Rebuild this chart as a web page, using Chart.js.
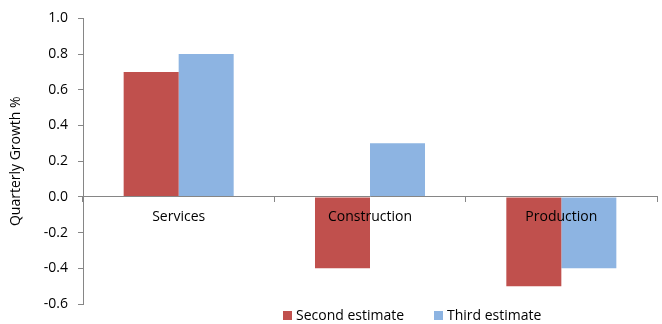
<!DOCTYPE html>
<html>
<head>
<meta charset="utf-8">
<script src="https://cdn.jsdelivr.net/npm/chart.js@4.4.0/dist/chart.umd.min.js"></script>
<style>
  html, body { margin: 0; padding: 0; background: #ffffff; }
  #wrap { width: 662px; height: 324px; position: relative; }
</style>
</head>
<body>
<div id="wrap"><canvas id="c" width="662" height="324"></canvas></div>
<script>
const categories = ['Services', 'Construction', 'Production'];
const secondEstimate = [0.7, -0.4, -0.5];
const thirdEstimate = [0.8, 0.3, -0.4];
const seriesNames = ['Second estimate', 'Third estimate'];
const yTicks = { min: -0.6, max: 1.0, step: 0.2 };
const axisTitle = 'Quarterly Growth %';

const FONT = "'Open Sans', 'Liberation Sans', sans-serif";
const AXIS = '#868686';

const legendPlugin = {
  id: 'manualLegend',
  afterDraw(chart) {
    const ctx = chart.ctx;
    ctx.save();
    ctx.font = '14px ' + FONT;
    ctx.textBaseline = 'middle';
    ctx.textAlign = 'left';
    const starts = [283, 434];
    chart.data.datasets.forEach((ds, i) => {
      const x = starts[i];
      ctx.fillStyle = ds.backgroundColor;
      ctx.fillRect(x, 311, 9, 9);
      ctx.fillStyle = '#000000';
      ctx.fillText(ds.label, x + 13, 316);
    });
    ctx.restore();
  }
};

new Chart(document.getElementById('c'), {
  type: 'bar',
  data: {
    labels: categories,
    datasets: [
      { label: seriesNames[0], data: secondEstimate, backgroundColor: '#C0504D', borderWidth: 0,
        categoryPercentage: 0.575, barPercentage: 1.0 },
      { label: seriesNames[1], data: thirdEstimate, backgroundColor: '#8DB4E2', borderWidth: 0,
        categoryPercentage: 0.575, barPercentage: 1.0 }
    ]
  },
  options: {
    responsive: false,
    animation: false,
    devicePixelRatio: 1,
    layout: { padding: { top: 16, right: 5, bottom: 20, left: 0 } },
    plugins: {
      legend: { display: false },
      tooltip: { enabled: false }
    },
    scales: {
      x: {
        position: { y: 0 },
        offset: true,
        grid: { drawOnChartArea: false, drawTicks: true, tickLength: 5, color: AXIS, offset: true, z: 1 },
        border: { display: true, color: AXIS, width: 1, z: 1 },
        ticks: { color: '#000000', font: { family: FONT, size: 14 }, padding: 7, maxRotation: 0, autoSkip: false, z: 2 }
      },
      y: {
        min: yTicks.min,
        max: yTicks.max,
        afterFit(scale) { scale.width = 83; },
        grid: { drawOnChartArea: false, drawTicks: true, tickLength: 5, color: AXIS },
        border: { display: true, color: AXIS, width: 1 },
        ticks: {
          stepSize: yTicks.step,
          color: '#000000',
          font: { family: FONT, size: 14 },
          padding: 10,
          callback: (v) => Number(v).toFixed(1)
        },
        title: { display: true, text: axisTitle, color: '#000000', font: { family: FONT, size: 14 }, padding: { top: 8, bottom: 0 } }
      }
    }
  },
  plugins: [legendPlugin]
});
</script>
</body>
</html>
